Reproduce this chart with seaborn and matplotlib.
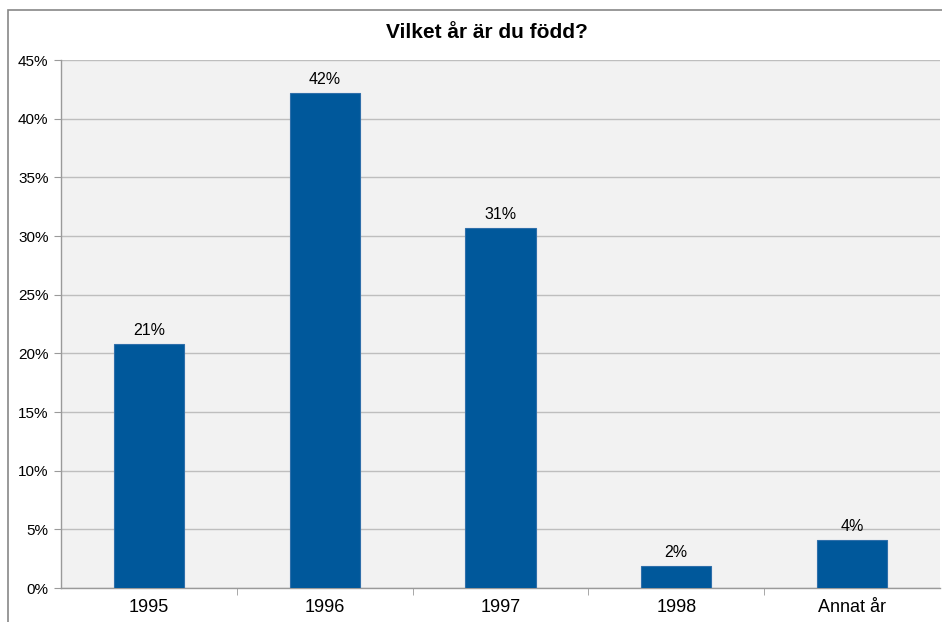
import matplotlib
matplotlib.use("Agg")
import matplotlib.pyplot as plt
import matplotlib.patches as mpatches
import seaborn as sns
import pandas as pd

# Survey answers: "Vilket år är du född?"
categories = ['1995', '1996', '1997', '1998', 'Annat år']
shares = [20.8, 42.2, 30.7, 1.9, 4.1]
labels = ['21%', '42%', '31%', '2%', '4%']

df = pd.DataFrame({'year': categories, 'share': shares})

sns.set_style("white")
plt.rcParams['font.family'] = ['Liberation Sans', 'DejaVu Sans']
plt.rcParams['text.color'] = 'black'
plt.rcParams['xtick.color'] = 'black'
plt.rcParams['ytick.color'] = 'black'

fig = plt.figure(figsize=(9.42, 6.22), dpi=100)
ax = fig.add_axes([61 / 942, 1 - 588 / 622, 879 / 942, 528 / 622])

# outer chart border
fig.patches.append(mpatches.Rectangle((8 / 942, -0.05), 1.0, 1 - 10 / 622 + 0.05,
                                      transform=fig.transFigure, fill=False,
                                      edgecolor='#878787', linewidth=1.2, zorder=0))

sns.barplot(data=df, x='year', y='share', color='#00589B', width=0.4,
            saturation=1, edgecolor='#2F6FAA', linewidth=0.8, ax=ax, zorder=3)

ax.set_facecolor('#F2F2F2')
ax.set_ylim(0, 45)
ax.set_xlim(-0.5, len(categories) - 0.5)
ax.set_yticks(range(0, 50, 5))
ax.set_yticklabels([f'{v}%' for v in range(0, 50, 5)], fontsize=11)
ax.yaxis.grid(True, color='#BEBEBE', linewidth=1, zorder=0)
ax.set_axisbelow(True)
ax.tick_params(axis='x', labelsize=13, length=0, pad=8, labelcolor='black')
ax.tick_params(axis='y', length=5, color='#9A9A9A', left=True, pad=4, labelcolor='black')
ax.set_xticks([i + 0.5 for i in range(len(categories) - 1)], minor=True)
ax.tick_params(axis='x', which='minor', length=5, color='#9A9A9A', bottom=True)
ax.set_xlabel('')
ax.set_ylabel('')

for side in ['top', 'right']:
    ax.spines[side].set_visible(False)
for side in ['left', 'bottom']:
    ax.spines[side].set_color('#9A9A9A')
    ax.spines[side].set_linewidth(1)

for container in ax.containers:
    ax.bar_label(container, labels=labels, padding=4, fontsize=11.5, color='black')

fig.text(487 / 942, 1 - 32 / 622, 'Vilket år är du född?', ha='center', va='center',
         fontsize=15, fontweight='bold', color='black')

fig.savefig('out.png', dpi=100)
